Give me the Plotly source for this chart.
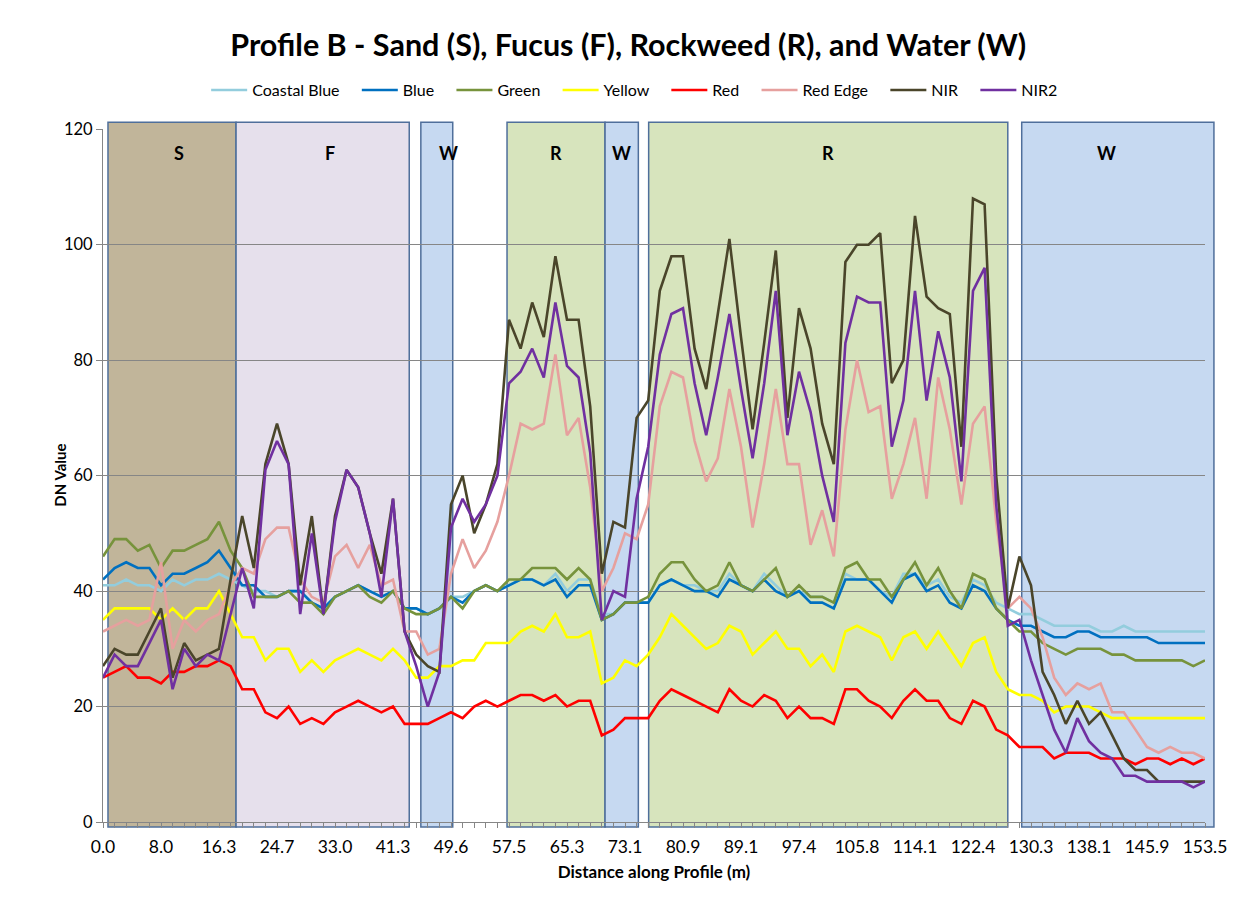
import plotly.graph_objects as go

# Distance labels shown on the category axis (one every 5 samples)
tick_labels = ["0.0", "8.0", "16.3", "24.7", "33.0", "41.3", "49.6", "57.5", "65.3", "73.1",
               "80.9", "89.1", "97.4", "105.8", "114.1", "122.4", "130.3", "138.1", "145.9", "153.5"]
label_step = 5

# DN values per band along profile B (96 samples)
coastal_blue = [41, 41, 42, 41, 41, 40, 42, 41, 42, 42, 43, 42, 41, 40, 40, 39, 40, 40, 38, 37,
                39, 40, 41, 40, 39, 40, 37, 37, 36, 37, 39, 39, 40, 41, 40, 41, 42, 42, 41, 43,
                40, 42, 42, 36, 36, 38, 38, 38, 41, 42, 41, 41, 40, 40, 43, 41, 40, 43, 41, 39,
                40, 39, 39, 38, 43, 42, 42, 40, 39, 43, 43, 41, 42, 39, 38, 42, 41, 38, 37, 36,
                36, 35, 34, 34, 34, 34, 33, 33, 34, 33, 33, 33, 33, 33, 33, 33]
blue = [42, 44, 45, 44, 44, 41, 43, 43, 44, 45, 47, 44, 41, 41, 39, 39, 40, 40, 38, 37,
        39, 40, 41, 40, 39, 40, 37, 37, 36, 37, 39, 38, 40, 41, 40, 41, 42, 42, 41, 42,
        39, 41, 41, 35, 36, 38, 38, 38, 41, 42, 41, 40, 40, 39, 42, 41, 40, 42, 40, 39,
        40, 38, 38, 37, 42, 42, 42, 40, 38, 42, 43, 40, 41, 38, 37, 41, 40, 37, 35, 34,
        34, 33, 32, 32, 33, 33, 32, 32, 32, 32, 32, 31, 31, 31, 31, 31]
green = [46, 49, 49, 47, 48, 44, 47, 47, 48, 49, 52, 47, 44, 39, 39, 39, 40, 38, 38, 36,
         39, 40, 41, 39, 38, 40, 37, 36, 36, 37, 39, 37, 40, 41, 40, 42, 42, 44, 44, 44,
         42, 44, 42, 35, 36, 38, 38, 39, 43, 45, 45, 42, 40, 41, 45, 41, 40, 42, 44, 39,
         41, 39, 39, 38, 44, 45, 42, 42, 39, 42, 45, 41, 44, 40, 37, 43, 42, 37, 35, 33,
         33, 31, 30, 29, 30, 30, 30, 29, 29, 28, 28, 28, 28, 28, 27, 28]
yellow = [35, 37, 37, 37, 37, 35, 37, 35, 37, 37, 40, 36, 32, 32, 28, 30, 30, 26, 28, 26,
          28, 29, 30, 29, 28, 30, 28, 25, 25, 27, 27, 28, 28, 31, 31, 31, 33, 34, 33, 36,
          32, 32, 33, 24, 25, 28, 27, 29, 32, 36, 34, 32, 30, 31, 34, 33, 29, 31, 33, 30,
          30, 27, 29, 26, 33, 34, 33, 32, 28, 32, 33, 30, 33, 30, 27, 31, 32, 26, 23, 22,
          22, 21, 19, 20, 20, 20, 19, 18, 18, 18, 18, 18, 18, 18, 18, 18]
red = [25, 26, 27, 25, 25, 24, 26, 26, 27, 27, 28, 27, 23, 23, 19, 18, 20, 17, 18, 17,
       19, 20, 21, 20, 19, 20, 17, 17, 17, 18, 19, 18, 20, 21, 20, 21, 22, 22, 21, 22,
       20, 21, 21, 15, 16, 18, 18, 18, 21, 23, 22, 21, 20, 19, 23, 21, 20, 22, 21, 18,
       20, 18, 18, 17, 23, 23, 21, 20, 18, 21, 23, 21, 21, 18, 17, 21, 20, 16, 15, 13,
       13, 13, 11, 12, 12, 12, 11, 11, 11, 10, 11, 11, 10, 11, 10, 11]
red_edge = [33, 34, 35, 34, 35, 45, 30, 35, 33, 35, 36, 41, 44, 43, 49, 51, 51, 42, 39, 38,
            46, 48, 44, 48, 41, 42, 33, 33, 29, 30, 43, 49, 44, 47, 52, 60, 69, 68, 69, 81,
            67, 70, 58, 40, 44, 50, 49, 55, 72, 78, 77, 66, 59, 63, 75, 65, 51, 62, 75, 62,
            62, 48, 54, 46, 68, 80, 71, 72, 56, 62, 70, 56, 77, 68, 55, 69, 72, 52, 37, 39,
            37, 32, 25, 22, 24, 23, 24, 19, 19, 16, 13, 12, 13, 12, 12, 11]
nir = [27, 30, 29, 29, 33, 37, 25, 31, 28, 29, 30, 42, 53, 44, 62, 69, 62, 41, 53, 36,
       53, 61, 58, 50, 43, 56, 33, 29, 27, 26, 55, 60, 50, 55, 62, 87, 82, 90, 84, 98,
       87, 87, 72, 43, 52, 51, 70, 73, 92, 98, 98, 82, 75, 88, 101, 84, 68, 83, 99, 70,
       89, 82, 69, 62, 97, 100, 100, 102, 76, 80, 105, 91, 89, 88, 65, 108, 107, 60, 37, 46,
       41, 26, 22, 17, 21, 17, 19, 15, 11, 9, 9, 7, 7, 7, 7, 7]
nir2 = [25, 29, 27, 27, 31, 35, 23, 30, 27, 29, 28, 36, 44, 37, 61, 66, 62, 36, 50, 36,
        52, 61, 58, 50, 39, 56, 33, 27, 20, 26, 51, 56, 52, 55, 60, 76, 78, 82, 77, 90,
        79, 77, 64, 35, 40, 39, 56, 65, 81, 88, 89, 76, 67, 77, 88, 75, 63, 76, 92, 67,
        78, 71, 60, 52, 83, 91, 90, 90, 65, 73, 92, 73, 85, 77, 59, 92, 96, 55, 34, 35,
        28, 22, 16, 12, 18, 14, 12, 11, 8, 8, 7, 7, 7, 7, 6, 7]

series = [
    ("Coastal Blue", coastal_blue, "#93CDDD"),
    ("Blue", blue, "#0070C0"),
    ("Green", green, "#77933C"),
    ("Yellow", yellow, "#FFFF00"),
    ("Red", red, "#FF0000"),
    ("Red Edge", red_edge, "#E6A09E"),
    ("NIR", nir, "#4A452A"),
    ("NIR2", nir2, "#7030A0"),
]

# Cover-type zones along the profile, in sample-index units
zone_labels = ["S", "F", "W", "R", "W", "R", "W"]
zone_start = [0.43, 11.47, 27.4, 34.83, 43.28, 47.04, 79.2]
zone_end = [11.47, 26.4, 30.15, 43.28, 46.15, 78.0, 95.77]
zone_fill = ["#C1B59A", "#E6E0EC", "#C6D9F1", "#D7E4BD", "#C6D9F1", "#D7E4BD", "#C6D9F1"]

n = len(red)
xs = list(range(n))
x_min, x_max = 0, n - 1

def to_paper(v):
    return (v - x_min) / (x_max - x_min)

FONT = "Lato"
PAD = "\u00a0" * 3  # extra room between legend entries

fig = go.Figure()
for name, vals, color in series:
    fig.add_trace(go.Scatter(x=xs, y=vals, mode="lines", name=name + PAD,
                             line=dict(color=color, width=2.6)))

shapes = []
annotations = []
for lab, a, b, fill in zip(zone_labels, zone_start, zone_end, zone_fill):
    shapes.append(dict(type="rect", xref="paper", yref="paper",
                       x0=to_paper(a), x1=to_paper(b), y0=-0.0072, y1=1.0101,
                       fillcolor=fill, line=dict(color="#4F6F9B", width=1.5), layer="below"))
    annotations.append(dict(text="<b>%s</b>" % lab, xref="paper", yref="paper",
                            x=to_paper((a + b) / 2), y=0.966, yanchor="middle",
                            showarrow=False,
                            font=dict(family=FONT, size=18, color="#000000")))

# Vertical axis title, placed beside the tick labels
annotations.append(dict(text="<b>DN Value</b>", xref="paper", yref="paper",
                        x=-0.039, y=0.5, xanchor="center", yanchor="middle",
                        textangle=-90, showarrow=False,
                        font=dict(family=FONT, size=15, color="#000000")))

tickvals = xs
ticktext = [tick_labels[i // label_step] if i % label_step == 0 else "" for i in xs]

fig.update_layout(
    width=1244, height=903,
    margin=dict(l=103, r=39, t=126, b=81),
    paper_bgcolor="white", plot_bgcolor="white",
    font=dict(family=FONT, color="#000000"),
    title=dict(text="<b>Profile B - Sand (S), Fucus (F), Rockweed (R), and Water (W)</b>",
               x=0.505, xref="container", xanchor="center",
               y=0.95, yref="container", yanchor="middle",
               font=dict(family=FONT, size=30.5, color="#000000")),
    legend=dict(orientation="h", xref="container", yref="container",
                x=0.515, xanchor="center", y=0.9003, yanchor="middle",
                font=dict(family=FONT, size=16, color="#000000"),
                bgcolor="rgba(0,0,0,0)", itemwidth=36),
    shapes=shapes,
    annotations=annotations,
    showlegend=True,
)

fig.update_xaxes(range=[x_min, x_max], tickmode="array", tickvals=tickvals, ticktext=ticktext,
                 ticks="outside", ticklen=5, tickcolor="#868686", tickwidth=1,
                 ticklabelstandoff=4,
                 showline=True, linecolor="#868686", linewidth=1,
                 showgrid=False, zeroline=False,
                 tickfont=dict(family=FONT, size=17.5, color="#000000"),
                 title=dict(text="<b>Distance along Profile (m)</b>", standoff=10,
                            font=dict(family=FONT, size=17, color="#000000")))
fig.update_yaxes(range=[0, 120], dtick=20, tick0=0,
                 ticks="outside", ticklen=6, tickcolor="#868686", tickwidth=1,
                 showline=True, linecolor="#868686", linewidth=1,
                 showgrid=True, gridcolor="#868686", gridwidth=1, zeroline=False,
                 tickfont=dict(family=FONT, size=16.5, color="#000000"))

fig.write_html("out.html")
